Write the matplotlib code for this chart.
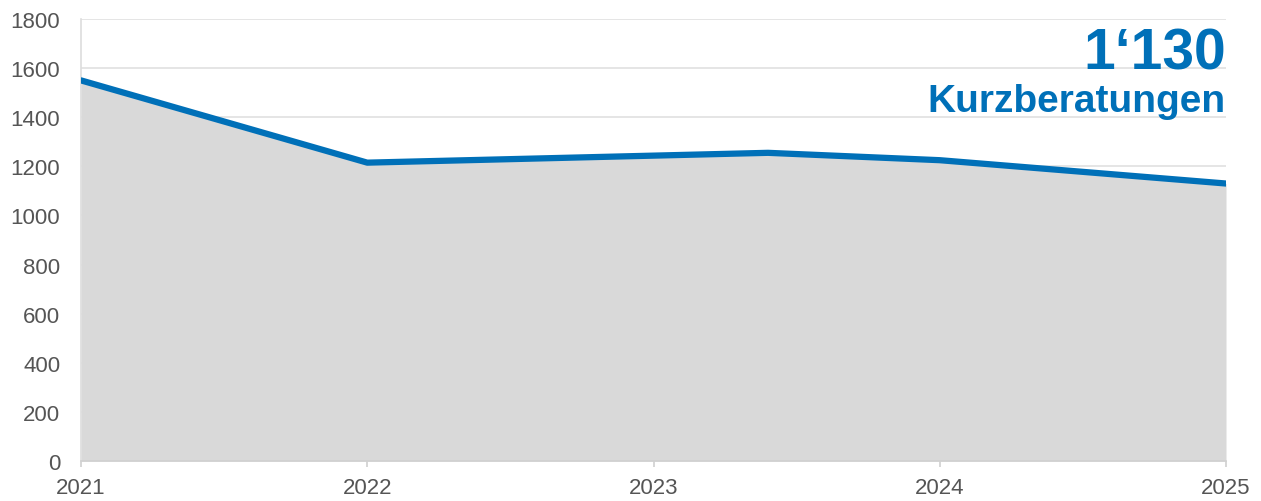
import numpy as np
import matplotlib.pyplot as plt

# data
years = [2021, 2022, 2023.4, 2024, 2025]
counts = [1550, 1215, 1255, 1225, 1130]
xticks = [2021, 2022, 2023, 2024, 2025]
yticks = list(range(0, 1801, 200))
headline = "1\u2018130"
subtitle = "Kurzberatungen"

blue = "#0070b8"
grey_text = "#555555"

plt.rcParams["font.family"] = ["Liberation Sans", "DejaVu Sans"]

fig = plt.figure(figsize=(12.61, 5.02), dpi=100)
ax = fig.add_axes([81 / 1261, 1 - 462 / 502, (1226 - 81) / 1261, (462 - 20) / 502])

ax.fill_between(years, counts, 0, color="#d9d9d9", linewidth=0, zorder=2)
ax.plot(years, counts, color=blue, linewidth=4.5, solid_capstyle="round",
        solid_joinstyle="round", zorder=3)

ax.set_xlim(2021, 2025)
ax.set_ylim(0, 1800)
ax.set_xticks(xticks)
ax.set_yticks(yticks)
ax.set_xticklabels([str(x) for x in xticks])

ax.grid(axis="y", color="#e3e3e3", linewidth=1.3, zorder=1)
ax.set_axisbelow(True)

for side in ["top", "right"]:
    ax.spines[side].set_visible(False)
ax.spines["left"].set_color("#dddddd")
ax.spines["bottom"].set_color("#d0d0d0")
ax.spines["left"].set_linewidth(1.2)
ax.spines["bottom"].set_linewidth(1.2)
ax.spines["bottom"].set_zorder(4)

ax.tick_params(axis="y", length=0, pad=15, labelsize=16, labelcolor=grey_text)
ax.tick_params(axis="x", length=4.5, width=1.2, color="#d0d0d0", pad=7,
               labelsize=16, labelcolor=grey_text)

ax.text(1.0, 0.887, headline, transform=ax.transAxes, ha="right", va="baseline",
        fontsize=41, fontweight="bold", color=blue, zorder=5)
ax.text(1.0, 0.792, subtitle, transform=ax.transAxes, ha="right", va="baseline",
        fontsize=28, fontweight="bold", color=blue, zorder=5)

fig.savefig("out.png", dpi=100)
